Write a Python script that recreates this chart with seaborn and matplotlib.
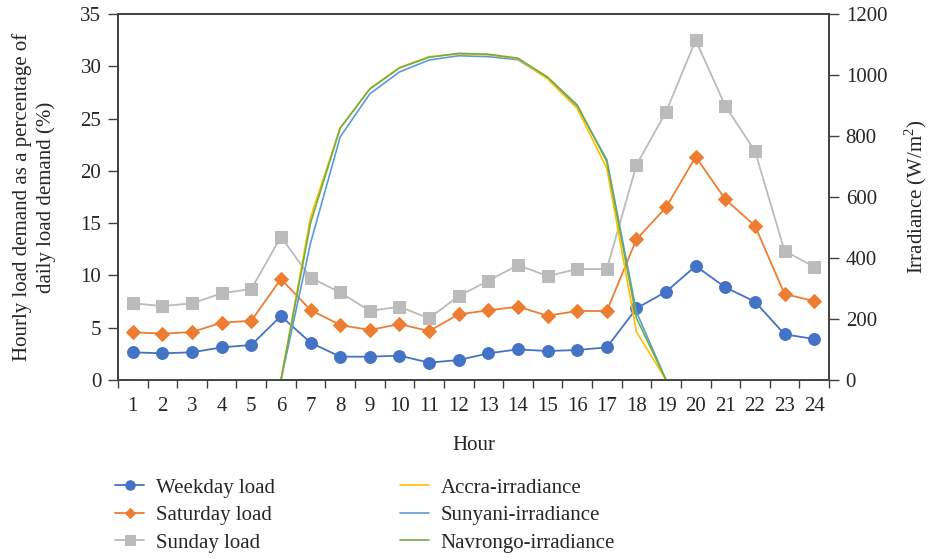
import numpy as np
import pandas as pd
import matplotlib
matplotlib.use("Agg")
import matplotlib.pyplot as plt
from matplotlib.ticker import FixedLocator, NullFormatter, FixedFormatter
import seaborn as sns

hours = list(range(1, 25))
weekday = [2.65, 2.55, 2.65, 3.12, 3.35, 6.12, 3.57, 2.23, 2.23, 2.33, 1.66, 1.91,
           2.55, 2.93, 2.77, 2.87, 3.12, 6.85, 8.44, 10.9, 8.86, 7.49, 4.37, 3.92]
saturday = [4.56, 4.43, 4.59, 5.48, 5.67, 9.66, 6.69, 5.26, 4.78, 5.35, 4.68, 6.28,
            6.66, 7.01, 6.15, 6.6, 6.6, 13.45, 16.51, 21.35, 17.27, 14.75, 8.22, 7.55]
sunday = [7.33, 7.07, 7.33, 8.29, 8.7, 13.7, 9.78, 8.38, 6.6, 7.01, 5.9, 8.03,
          9.49, 10.99, 9.94, 10.61, 10.61, 20.55, 25.65, 32.5, 26.2, 21.9, 12.33, 10.83]
accra = [0, 0, 0, 0, 0, 0, 534, 826, 955, 1024, 1060, 1069,
         1066, 1053, 987, 890, 694, 158, 0, 0, 0, 0, 0, 0]
sunyani = [0, 0, 0, 0, 0, 0, 449, 797, 938, 1010, 1049, 1063,
           1060, 1050, 990, 898, 722, 223, 0, 0, 0, 0, 0, 0]
navrongo = [0, 0, 0, 0, 0, 0, 515, 826, 954, 1023, 1058, 1071,
            1068, 1055, 993, 902, 716, 203, 0, 0, 0, 0, 0, 0]

sns.set_style("ticks")
plt.rcParams['font.family'] = ['Liberation Serif', 'DejaVu Serif']
plt.rcParams['mathtext.fontset'] = 'custom'
plt.rcParams['mathtext.rm'] = 'Liberation Serif'
plt.rcParams['font.size'] = 15

FS = 15
fig = plt.figure(figsize=(9.32, 5.59), dpi=100)
ax = fig.add_axes([0.1266, 0.3202, 0.7629, 0.6548])
ax2 = ax.twinx()

c_wd, c_sat, c_sun = "#4472C4", "#ED7D31", "#BBBBBB"
c_acc, c_sny, c_nav = "#FFC000", "#5B9BD5", "#70AD47"
spine_c = "#404040"

sns.lineplot(x=hours, y=weekday, ax=ax, color=c_wd, marker="o", markersize=8.5,
             markeredgecolor=c_wd, linewidth=1.3, label="Weekday load")
sns.lineplot(x=hours, y=saturday, ax=ax, color=c_sat, marker="D", markersize=6.8,
             markeredgecolor=c_sat, linewidth=1.3, label="Saturday load")
sns.lineplot(x=hours, y=sunday, ax=ax, color=c_sun, marker="s", markersize=8.3,
             markeredgecolor=c_sun, linewidth=1.3, label="Sunday load")

sns.lineplot(x=hours, y=sunyani, ax=ax2, color=c_sny, linewidth=1.2, label="Sunyani-irradiance")
sns.lineplot(x=hours, y=accra, ax=ax2, color=c_acc, linewidth=1.2, label="Accra-irradiance")
sns.lineplot(x=hours, y=navrongo, ax=ax2, color=c_nav, linewidth=1.2, label="Navrongo-irradiance")

ax.set_xlim(0.5, 24.5)
ax.set_ylim(0, 35)
ax2.set_ylim(0, 1200)
ax.set_yticks(np.arange(0, 36, 5))
ax2.set_yticks(np.arange(0, 1201, 200))

ax.xaxis.set_major_locator(FixedLocator(np.arange(0.5, 25, 1)))
ax.xaxis.set_major_formatter(NullFormatter())
ax.xaxis.set_minor_locator(FixedLocator(hours))
ax.xaxis.set_minor_formatter(FixedFormatter([str(h) for h in hours]))
ax.tick_params(axis="x", which="minor", length=0, pad=12, labelsize=FS)
ax.tick_params(axis="x", which="major", length=6, width=1, direction="out", color=spine_c)
ax.tick_params(axis="y", length=7, width=1, direction="out", labelsize=FS, color=spine_c, pad=5)
ax2.tick_params(axis="y", length=7, width=1, direction="out", labelsize=FS, color=spine_c, pad=5)

for a in (ax, ax2):
    for s in a.spines.values():
        s.set_visible(True)
        s.set_color(spine_c)
        s.set_linewidth(1.2)

ax.set_xlabel("Hour", fontsize=FS)
ax.xaxis.set_label_coords(0.5, -0.152)
ax.set_ylabel("Hourly load demand as a percentage of\ndaily load demand (%)", fontsize=FS,
              linespacing=1.3)
ax.yaxis.set_label_coords(-0.087, 0.5)
ax2.set_ylabel("Irradiance (W/m$^2$)", fontsize=FS)
ax2.yaxis.set_label_coords(1.103, 0.5)

h1, l1 = ax.get_legend_handles_labels()
h2, l2 = ax2.get_legend_handles_labels()
if ax.get_legend():
    ax.get_legend().remove()
if ax2.get_legend():
    ax2.get_legend().remove()
d2 = dict(zip(l2, h2))
order2 = ["Accra-irradiance", "Sunyani-irradiance", "Navrongo-irradiance"]

common = dict(loc="upper left", frameon=False, fontsize=FS, handlelength=1.4,
              handletextpad=0.55, labelspacing=0.38, borderaxespad=0, borderpad=0,
              markerscale=0.8)
top = 1 - 478 / 559
leg1 = fig.legend(h1, l1, bbox_to_anchor=(115 / 932, top), **common)
leg2 = fig.legend([d2[k] for k in order2], order2, bbox_to_anchor=(400 / 932, top), **common)

fig.savefig("out.png", dpi=100)
